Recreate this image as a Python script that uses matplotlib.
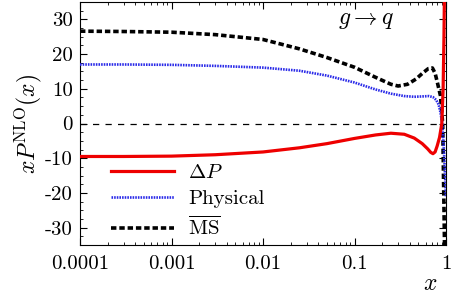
import numpy as np
import matplotlib
matplotlib.use("Agg")
import matplotlib.pyplot as plt
from matplotlib.ticker import MultipleLocator, LogLocator, NullFormatter

plt.rcParams['font.family'] = 'serif'
plt.rcParams['font.serif'] = ['cmr10']
plt.rcParams['mathtext.fontset'] = 'cm'
plt.rcParams['axes.unicode_minus'] = False

# Delta P (red, solid)
x_dp = [1e-4, 3e-4, 1e-3, 3e-3, 0.01, 0.025, 0.05, 0.1, 0.17, 0.25, 0.35, 0.45,
        0.55, 0.63, 0.68, 0.72, 0.76, 0.80, 0.85, 0.90, 0.93, 0.95, 0.96]
y_dp = [-9.5, -9.5, -9.4, -9.0, -8.2, -7.0, -5.8, -4.3, -3.3, -2.8, -3.1, -4.2,
        -5.8, -7.3, -8.3, -8.7, -8.2, -6.5, -4.0, 0.0, 10.0, 25.0, 36.0]

# Physical (blue, dotted)
x_ph = [1e-4, 3e-4, 1e-3, 3e-3, 0.01, 0.025, 0.05, 0.1, 0.17, 0.25, 0.35, 0.45,
        0.55, 0.65, 0.72, 0.78, 0.83, 0.87, 0.91, 0.95, 0.98, 0.995]
y_ph = [17.0, 17.0, 16.9, 16.6, 16.1, 15.2, 13.8, 11.8, 9.8, 8.6, 7.9, 7.7,
        7.8, 7.9, 7.6, 6.8, 5.5, 3.2, 0.0, -8.0, -16.0, -21.0]

# MS-bar (black, dashed)
x_ms = [1e-4, 3e-4, 1e-3, 3e-3, 0.01, 0.025, 0.05, 0.1, 0.17, 0.25, 0.3, 0.38,
        0.47, 0.56, 0.64, 0.71, 0.76, 0.81, 0.87, 0.92, 0.94, 0.955, 0.965]
y_ms = [26.6, 26.5, 26.3, 25.6, 24.2, 21.5, 19.0, 16.2, 13.3, 11.3, 10.8, 11.3,
        12.8, 14.6, 15.8, 16.0, 14.5, 11.5, 8.0, 0.0, -16.0, -28.0, -36.0]

x_ticks = [1e-4, 1e-3, 1e-2, 1e-1, 1]
x_ticklabels = ['0.0001', '0.001', '0.01', '0.1', '1']
y_ticks = [-30, -20, -10, 0, 10, 20, 30]
y_ticklabels = ['-30', '-20', '-10', '0', '10', '20', '30']

fig = plt.figure(figsize=(4.57, 2.94), dpi=100)
ax = fig.add_axes([80 / 457, 49 / 294, 366 / 457, 243 / 294])

ax.plot([1e-4, 0.8], [0, 0], color='black', lw=0.9, ls=(0, (5, 5)))
ax.plot(x_ms, y_ms, color='black', lw=2.6, ls=(0, (1.5, 0.8)), label=r'$\overline{\rm MS}$', zorder=3)
ax.plot(x_ph, y_ph, color='#2a2ae8', lw=1.9, ls=(0, (0.6, 0.4)), label='Physical', zorder=4)
ax.plot(x_dp, y_dp, color='#ee0000', lw=2.3, label=r'$\Delta P$', zorder=5)

ax.set_xscale('log')
ax.set_xlim(1e-4, 1)
ax.set_ylim(-35, 35)
ax.set_xticks(x_ticks)
ax.set_xticklabels(x_ticklabels)
ax.set_yticks(y_ticks)
ax.set_yticklabels(y_ticklabels)
ax.xaxis.set_minor_locator(LogLocator(base=10, subs=np.arange(2, 10)))
ax.xaxis.set_minor_formatter(NullFormatter())
ax.yaxis.set_minor_locator(MultipleLocator(2.5))
ax.tick_params(which='both', direction='in', top=True, right=True, labelsize=15)
ax.tick_params(which='major', length=5, width=0.8)
ax.tick_params(which='minor', length=2.5, width=0.6)
ax.tick_params(axis='x', pad=7)
ax.tick_params(axis='y', pad=5)

ax.text(0.78, 0.925, r'$g \rightarrow q$', transform=ax.transAxes, fontsize=17, ha='center', va='center')
ax.set_ylabel(r'$xP^{\rm NLO}(x)$', fontsize=17, labelpad=1)
fig.text(430 / 457, 10 / 294, r'$x$', fontsize=17, ha='center', va='center')

h, l = ax.get_legend_handles_labels()
ax.legend(h[::-1], l[::-1], loc='lower left', bbox_to_anchor=(0.045, -0.035), frameon=False,
          fontsize=15, handlelength=3.0, handletextpad=0.7, labelspacing=0.36, borderpad=0.2)

fig.savefig('out.png', dpi=100)
